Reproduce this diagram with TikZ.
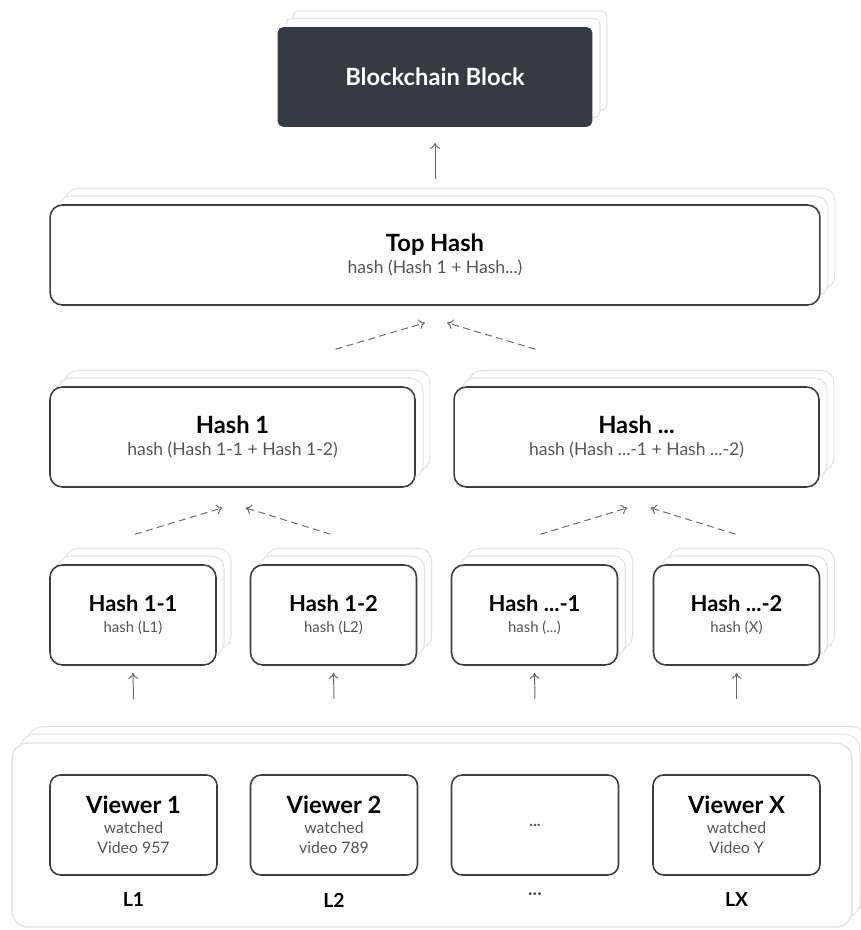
\documentclass[tikz,border=0pt]{standalone}
\usepackage{fontspec}
\setmainfont{Lato}
\usepackage{tikz}
\usetikzlibrary{arrows.meta,positioning,shadows}
\definecolor{BlockDark}{RGB}{54,58,66}
\definecolor{EdgeGray}{RGB}{62,62,62}
\definecolor{SheetGray}{RGB}{226,226,226}
\definecolor{ArrowGray}{RGB}{105,105,105}
\definecolor{SubGray}{RGB}{85,85,85}

\begin{document}
\begin{tikzpicture}[
  x=0.02cm, y=-0.02cm,
  sheets/.style={
    copy shadow={shadow xshift=0.3cm, shadow yshift=0.33cm,
      draw=SheetGray, fill=white, line width=0.6pt},
    copy shadow={shadow xshift=0.16cm, shadow yshift=0.18cm,
      draw=SheetGray, fill=white, line width=0.6pt}
  },
  chainblock/.style={
    sheets,
    fill=BlockDark,
    draw=BlockDark,
    rounded corners=3pt,
    minimum width=6.28cm,
    minimum height=1.98cm,
    text=white,
    font=\fontsize{13.5}{16}\selectfont\bfseries
  },
  tophash/.style={
    sheets,
    draw=EdgeGray,
    fill=white,
    line width=0.9pt,
    rounded corners=7pt,
    minimum width=15.4cm,
    minimum height=2cm,
    align=center,
    font=\fontsize{10}{13}\selectfont
  },
  midhash/.style={tophash, minimum width=7.3cm},
  leafhash/.style={tophash, minimum width=3.32cm, font=\fontsize{8.5}{12}\selectfont},
  viewer/.style={
    draw=EdgeGray,
    fill=white,
    line width=0.9pt,
    rounded corners=6pt,
    minimum width=3.34cm,
    minimum height=2cm,
    align=center,
    font=\fontsize{9}{11.5}\selectfont
  },
  viewerframe/.style={
    sheets,
    draw=SheetGray,
    fill=white,
    line width=0.8pt,
    rounded corners=9pt,
    minimum width=16.8cm,
    minimum height=3.68cm
  },
  leaflabel/.style={font=\fontsize{11}{13}\selectfont\bfseries},
  uparr/.style={-{To[length=1.2mm,width=2mm]}, ArrowGray, line width=0.55pt},
  dasharr/.style={uparr, dash pattern=on 4pt off 2.5pt}
]
\path[use as bounding box, fill=white] (0,0) rectangle (860,930);

% block and top hash
\node[chainblock] (block) at (435,77) {Blockchain Block};
\node[tophash] (top) at (435,255)
  {{\fontsize{13.5}{16}\selectfont\bfseries Top Hash}\\
   {\color{SubGray}hash (Hash 1 + Hash...)}};

% second level
\node[midhash] (hash1) at (232.5,437)
  {{\fontsize{13.5}{16}\selectfont\bfseries Hash 1}\\
   {\color{SubGray}hash (Hash 1-1 + Hash 1-2)}};
\node[midhash] (hashn) at (636.5,437)
  {{\fontsize{13.5}{16}\selectfont\bfseries Hash ...}\\
   {\color{SubGray}hash (Hash ...-1 + Hash ...-2)}};

% leaves
\node[leafhash] (h11) at (133,615)
  {{\fontsize{12.5}{15}\selectfont\bfseries Hash 1-1}\\{\color{SubGray}hash (L1)}};
\node[leafhash] (h12) at (333.5,615)
  {{\fontsize{12.5}{15}\selectfont\bfseries Hash 1-2}\\{\color{SubGray}hash (L2)}};
\node[leafhash] (hn1) at (534.5,615)
  {{\fontsize{12.5}{15}\selectfont\bfseries Hash ...-1}\\{\color{SubGray}hash (...)}};
\node[leafhash] (hn2) at (736.5,615)
  {{\fontsize{12.5}{15}\selectfont\bfseries Hash ...-2}\\{\color{SubGray}hash (X)}};

% viewers
\node[viewerframe] (viewers) at (432,835) {};
\node[viewer] (v1) at (133.5,825)
  {{\fontsize{13.5}{16}\selectfont\bfseries Viewer 1}\\{\color{SubGray}watched}\\{\color{SubGray}Video 957}};
\node[viewer] (v2) at (334,825)
  {{\fontsize{13.5}{16}\selectfont\bfseries Viewer 2}\\{\color{SubGray}watched}\\{\color{SubGray}video 789}};
\node[viewer] (vn) at (535,825) {\bfseries\color{SubGray}...};
\node[viewer] (vx) at (736.5,825)
  {{\fontsize{13.5}{16}\selectfont\bfseries Viewer X}\\{\color{SubGray}watched}\\{\color{SubGray}Video Y}};
\node[leaflabel, below=0.22cm of v1] (l1) {L1};
\node[leaflabel, below=0.22cm of v2] (l2) {L2};
\node[leaflabel, below=0.22cm of vn, text=SubGray] (ln) {...};
\node[leaflabel, below=0.22cm of vx] (lx) {LX};

% connectors
\draw[uparr] ([shift={(0,-25)}]top.north) -- ([shift={(0,16)}]block.south);
\draw[dasharr] ([shift={(103,-37)}]hash1.north) -- ([shift={(-10,17)}]top.south);
\draw[dasharr] ([shift={(-101,-37)}]hashn.north) -- ([shift={(12,17)}]top.south);
\draw[dasharr] ([shift={(2,-30)}]h11.north) -- ([shift={(-10,20)}]hash1.south);
\draw[dasharr] ([shift={(-3,-30)}]h12.north) -- ([shift={(13,20)}]hash1.south);
\draw[dasharr] ([shift={(6,-30)}]hn1.north) -- ([shift={(-9,20)}]hashn.south);
\draw[dasharr] ([shift={(-1,-30)}]hn2.north) -- ([shift={(14,20)}]hashn.south);
\draw[uparr] ([shift={(0,-75)}]v1.north) -- ([shift={(0,7)}]h11.south);
\draw[uparr] ([shift={(0,-75)}]v2.north) -- ([shift={(0,7)}]h12.south);
\draw[uparr] ([shift={(0,-75)}]vn.north) -- ([shift={(0,7)}]hn1.south);
\draw[uparr] ([shift={(0,-75)}]vx.north) -- ([shift={(0,7)}]hn2.south);
\end{tikzpicture}
\end{document}
